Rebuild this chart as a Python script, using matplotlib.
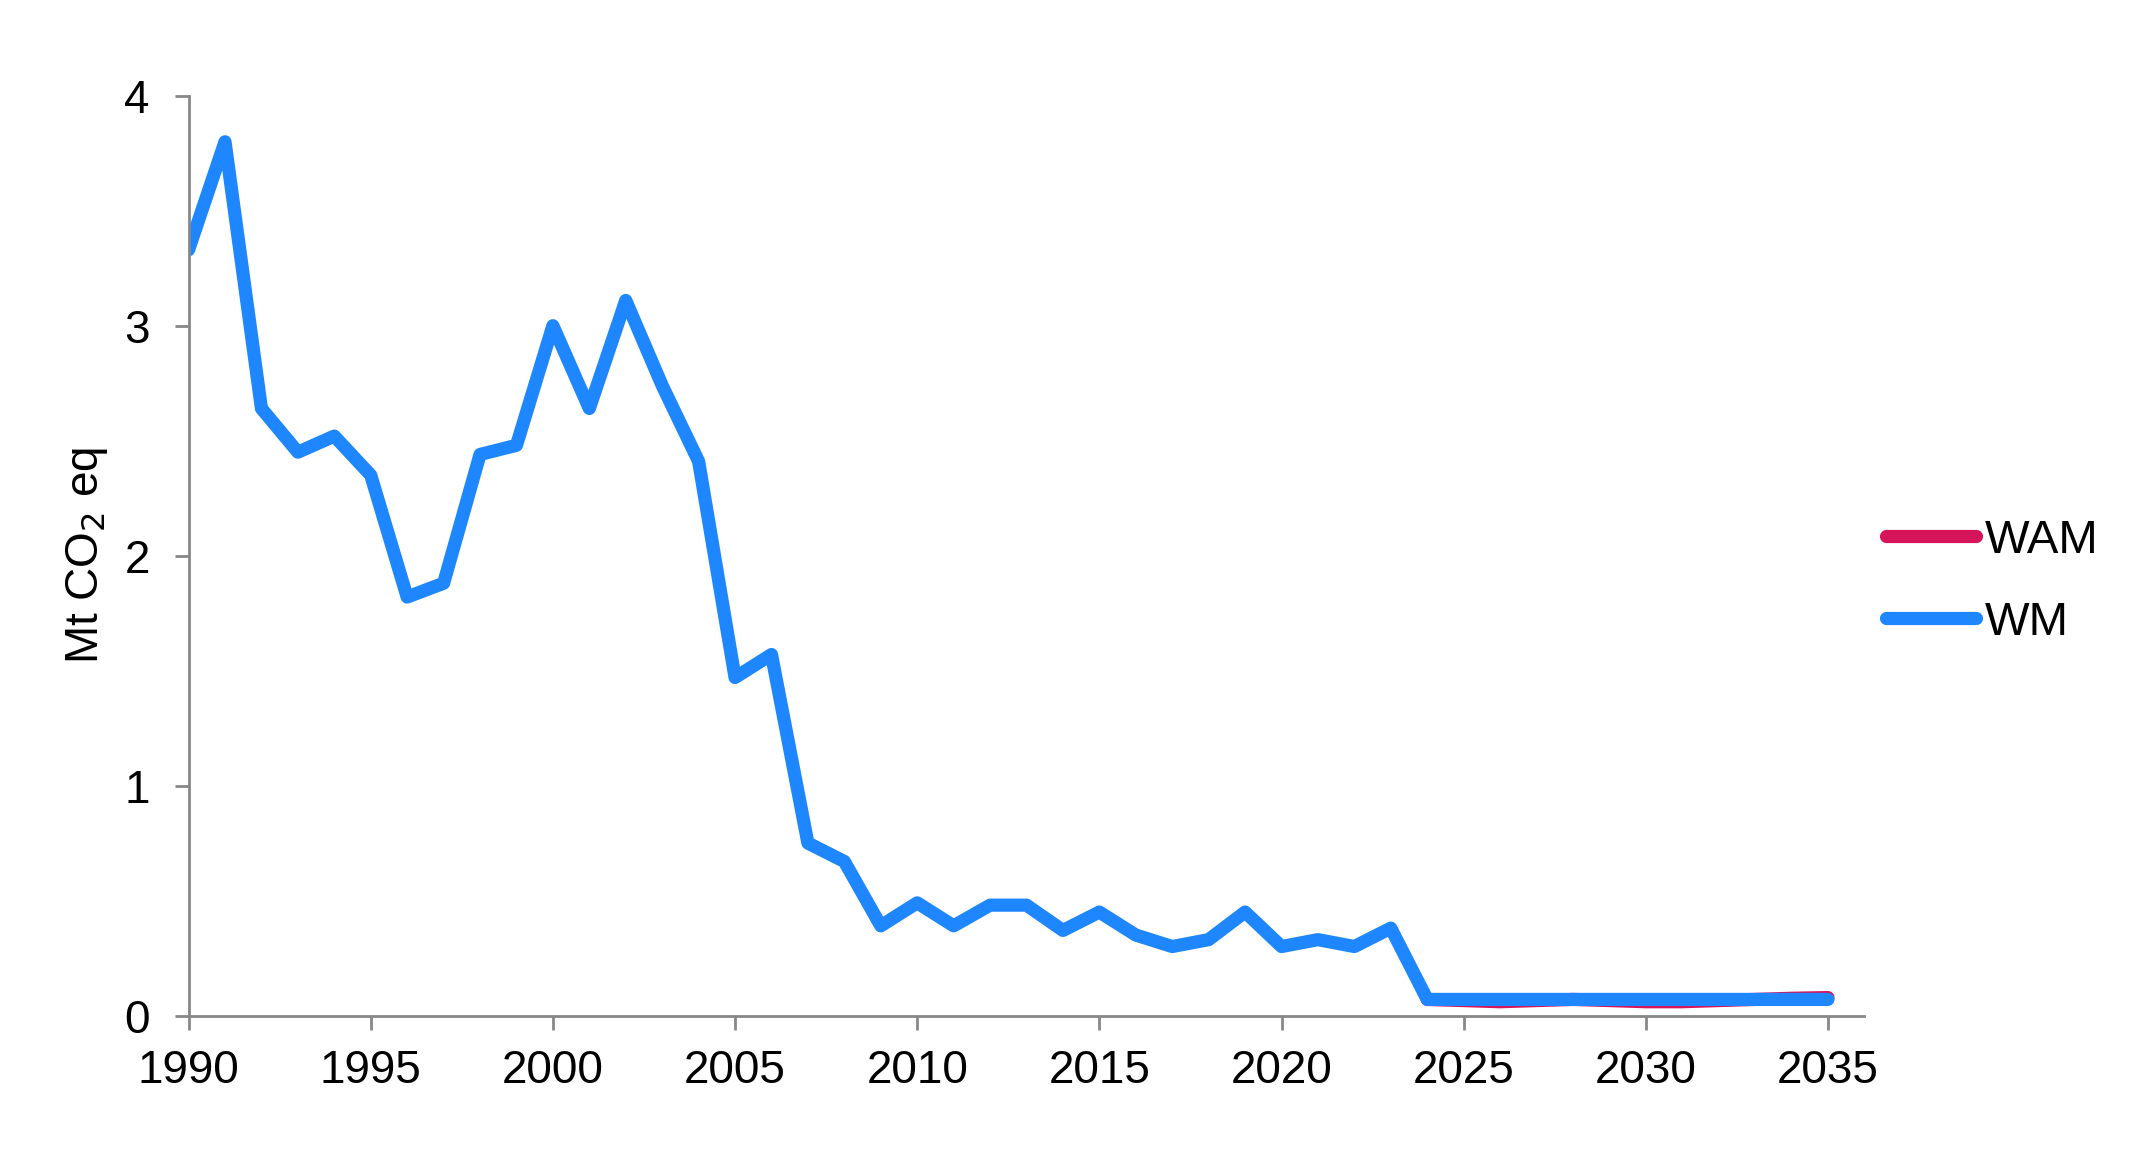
import matplotlib
matplotlib.use('Agg')
import matplotlib.pyplot as plt

plt.rcParams['font.family'] = ['Liberation Sans', 'DejaVu Sans']

# Données
years = list(range(1990, 2036))
wm = [3.33, 3.80, 2.64, 2.45, 2.52, 2.35, 1.82, 1.88, 2.44, 2.48,
      3.00, 2.64, 3.11, 2.74, 2.41, 1.47, 1.57, 0.75, 0.67, 0.39,
      0.49, 0.39, 0.48, 0.48, 0.37, 0.45, 0.35, 0.30, 0.33, 0.45,
      0.30, 0.33, 0.30, 0.38, 0.07, 0.07, 0.07, 0.07, 0.07, 0.07,
      0.07, 0.07, 0.07, 0.07, 0.07, 0.07]
wam_years = list(range(2024, 2036))
wam = [0.07, 0.065, 0.06, 0.065, 0.07, 0.065, 0.06, 0.06, 0.065, 0.07, 0.075, 0.078]

x_ticks = [1990, 1995, 2000, 2005, 2010, 2015, 2020, 2025, 2030, 2035]
y_ticks = [0, 1, 2, 3, 4]

fig = plt.figure(figsize=(21.43, 11.54), dpi=100)
ax = fig.add_axes([0.088, 0.120, 0.782, 0.797])

ax.plot(wam_years, wam, color='#D6145A', lw=9.5, solid_capstyle='round',
        solid_joinstyle='round', label='WAM')
ax.plot(years, wm, color='#1E87FF', lw=9.5, solid_capstyle='round',
        solid_joinstyle='round', label='WM')

ax.set_xlim(1990, 2036)
ax.set_ylim(0, 4)
ax.set_xticks(x_ticks)
ax.set_yticks(y_ticks)
ax.tick_params(axis='both', colors='#888888', labelcolor='black',
               labelsize=33, length=10, width=2, direction='out')
ax.tick_params(axis='y', pad=18)
ax.tick_params(axis='x', pad=14)

for s in ['top', 'right']:
    ax.spines[s].set_visible(False)
for s in ['left', 'bottom']:
    ax.spines[s].set_color('#888888')
    ax.spines[s].set_linewidth(2)

ax.set_ylabel('Mt CO$_2$ eq', fontsize=33, labelpad=10)

ax.legend(loc='center left', bbox_to_anchor=(0.880, 0.496),
          bbox_transform=fig.transFigure, frameon=False, fontsize=34,
          handlelength=1.9, handletextpad=0.2, labelspacing=0.8, borderpad=0,
          borderaxespad=0)

fig.savefig('out.png', dpi=100)
